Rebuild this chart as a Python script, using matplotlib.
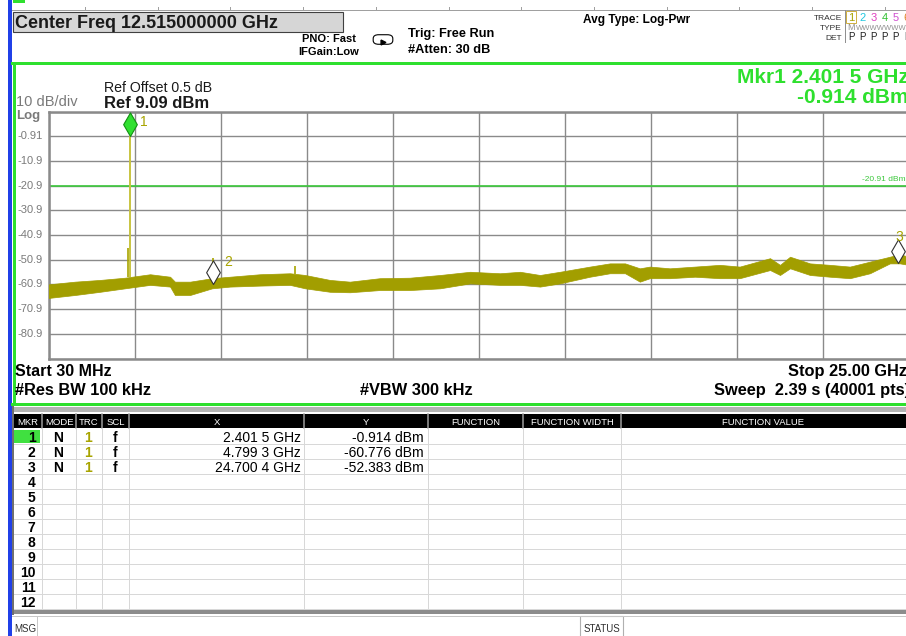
import numpy as np
import matplotlib.pyplot as plt
from matplotlib.patches import Rectangle, FancyBboxPatch
from matplotlib.path import Path
from matplotlib.lines import Line2D
from matplotlib.transforms import blended_transform_factory

plt.rcParams['font.family'] = ['Liberation Sans', 'DejaVu Sans']

# sweep settings
start_ghz = 0.03
stop_ghz = 25.0
ref_dbm = 9.09
db_div = 10
threshold_dbm = -20.91

# noise floor band (upper / lower edge)
freq_ghz = [0.03, 0.80, 1.53, 2.25, 2.98, 3.56, 3.70, 4.14, 4.78, 5.30, 6.17,
            7.04, 7.48, 8.20, 8.78, 9.65, 10.52, 11.40, 12.27, 13.14, 13.72,
            14.30, 14.88, 15.75, 16.33, 16.77, 17.20, 17.49, 18.07, 18.80,
            19.52, 20.10, 20.98, 21.27, 21.56, 22.14, 22.72, 23.30, 23.88,
            24.46, 24.75, 25.00]
floor_top = [-60.9, -59.8, -59.1, -58.2, -56.8, -57.8, -59.8, -59.8, -58.4,
             -57.8, -56.8, -56.4, -57.1, -59.1, -59.8, -58.4, -58.2, -57.1,
             -55.8, -56.4, -55.8, -57.1, -55.8, -53.7, -52.4, -52.4, -54.4,
             -53.7, -54.4, -53.7, -53.0, -53.7, -50.3, -53.0, -49.7, -52.4,
             -53.0, -53.7, -51.7, -49.7, -48.7, -49.7]
floor_bottom = [-66.4, -65.2, -63.9, -62.5, -61.1, -61.8, -65.2, -65.2, -62.5,
                -61.8, -61.4, -61.1, -62.5, -63.9, -64.1, -63.2, -63.2, -62.5,
                -60.5, -61.1, -61.1, -61.8, -60.5, -57.8, -56.4, -56.4, -59.8,
                -58.4, -58.4, -57.8, -58.4, -58.4, -55.1, -57.1, -54.4, -57.1,
                -57.8, -58.4, -56.4, -52.4, -52.4, -53.0]

# narrow spurs above the floor
spur_ghz = [2.33, 4.80, 7.19, 24.70]
spur_dbm = [-46.3, -50.3, -53.5, -50.0]

# carrier
peak_ghz = 2.4015
peak_dbm = -0.914

# markers
mkr_ghz = [2.4015, 4.7993, 24.7004]
mkr_dbm = [-0.914, -60.776, -52.383]

W, H = 906, 636


def fx(x):
    return x / W


def fy(y):
    return 1 - y / H


GREEN = '#2ee02e'
OLIVE = '#a8a400'
GRID = '#8a8a8a'
LBL = '#7a7a7a'

fig = plt.figure(figsize=(W / 100, H / 100), dpi=100)
fig.patch.set_facecolor('white')


def rect(x0, y0, x1, y1, **kw):
    fig.add_artist(Rectangle((fx(x0), fy(y1)), (x1 - x0) / W, (y1 - y0) / H,
                             transform=fig.transFigure, **kw))


def line(x0, y0, x1, y1, color, lw):
    fig.add_artist(Line2D([fx(x0), fx(x1)], [fy(y0), fy(y1)],
                          transform=fig.transFigure, color=color, lw=lw * 0.72))


def txt(x, y, s, **kw):
    kw.setdefault('va', 'baseline')
    fig.text(fx(x), fy(y), s, **kw)


# ---- main trace window ----
ax = fig.add_axes([fx(48.5), fy(358.5), 860 / W, 247 / H])
ax.set_xlim(start_ghz, stop_ghz)
ax.set_ylim(ref_dbm - 10 * db_div, ref_dbm)
ax.set_xticks(np.linspace(start_ghz, stop_ghz, 11))
ax.set_yticks(ref_dbm - db_div * np.arange(11))
ax.grid(True, color=GRID, lw=1.0)
ax.tick_params(length=0, labelbottom=False, labelleft=False)
for s in ax.spines.values():
    s.set_color(GRID)
    s.set_linewidth(1.8)
ax.set_axisbelow(True)

ax.fill_between(freq_ghz, floor_bottom, floor_top, color='#a29e00', lw=0.5,
                edgecolor='#a29e00', zorder=3)
spur_base = np.interp(spur_ghz, freq_ghz, floor_top)
ax.vlines(spur_ghz, spur_base, spur_dbm, color=OLIVE, lw=1.2, zorder=3)
ax.vlines(peak_ghz, np.interp(peak_ghz, freq_ghz, floor_top), peak_dbm,
          color='#c8c440', lw=1.4, zorder=3)

ax.axhline(threshold_dbm, color='#3cc83c', lw=1.2, zorder=2)
tr = blended_transform_factory(fig.transFigure, ax.transData)
ax.text(fx(906), threshold_dbm + 1.2, '-20.91 dBm', transform=tr, ha='right',
        va='bottom', fontsize=6, color='#3cc83c')

# y labels
for v in ref_dbm - db_div * np.arange(1, 10):
    ax.text(fx(17), v, f'{v:.2f}' if abs(v) < 1 else f'{v:.1f}', transform=tr,
            ha='left', va='center', fontsize=8, color=LBL)

# marker diamonds, tip sits on the marker value
diamond = Path([(0, 0), (0.58, 1), (0, 2), (-0.58, 1), (0, 0)],
               [Path.MOVETO, Path.LINETO, Path.LINETO, Path.LINETO, Path.CLOSEPOLY])
label_off = [(7, 10), (8, 16), (0.5, 19)]
for i, (f, v) in enumerate(zip(mkr_ghz, mkr_dbm)):
    if i == 0:
        fc, ec = '#30e030', '#129012'
    else:
        fc, ec = 'white', '#303030'
    ax.plot(f, v, marker=diamond, ms=34, mfc=fc, mec=ec, mew=0.8,
            zorder=5, clip_on=False)
    ax.annotate(str(i + 1), (f, v), xytext=label_off[i], textcoords='offset points',
                ha='left' if i < 2 else 'center', va='center', fontsize=10,
                color=OLIVE, annotation_clip=False, zorder=6)

# ---- frame and header ----
rect(8, 0, 12, 636, color='#2040e8', lw=0)
rect(13, 0, 25, 3, color=GREEN, lw=0)
line(12, 9.5, 906, 9.5, '#a0a0a0', 1)
for k in range(12):
    xt = 85 + 72.7 * k
    line(xt, 6.5, xt, 9.5, '#a0a0a0', 1)

rect(12.5, 11.5, 343, 31.5, facecolor='#d6d6d6', edgecolor='#404040', lw=0.8)
txt(15, 28, 'Center Freq 12.515000000 GHz', fontsize=13, fontweight='bold',
    color='#1a1a1a')

txt(329, 41.5, 'PNO: Fast', fontsize=8, fontweight='bold', ha='center')
txt(329, 55, 'IFGain:Low', fontsize=8, fontweight='bold', ha='center')
fig.add_artist(FancyBboxPatch((fx(375), fy(43)), 16 / W, 7 / H,
                              boxstyle='round,pad=0.002,rounding_size=0.006',
                              transform=fig.transFigure, fc='white', ec='black', lw=0.8))
fig.add_artist(Line2D([fx(383)], [fy(41.5)], marker='>', ms=3.5, color='black',
                      transform=fig.transFigure))
txt(408, 37, 'Trig: Free Run', fontsize=9.2, fontweight='bold')
txt(408, 53, '#Atten: 30 dB', fontsize=9.2, fontweight='bold')
txt(583, 23.5, 'Avg Type: Log-Pwr', fontsize=8.6, fontweight='bold')

# trace/type/det box
txt(842, 19.5, 'TRACE', fontsize=6, ha='right', color='#303030')
txt(842, 29.5, 'TYPE', fontsize=6, ha='right', color='#303030')
txt(842, 39.5, 'DET', fontsize=6, ha='right', color='#303030')
line(845, 10, 845, 42, '#909090', 1)
rect(846, 11, 856, 23, facecolor='none', edgecolor='#d0b040', lw=0.7)
trace_colors = ['#a8a400', '#20c8e0', '#e040c0', '#30c030', '#d050d0', '#e08020']
for k, c in enumerate(trace_colors):
    xk = 851 + 11.2 * k
    txt(xk, 21, str(k + 1), fontsize=8, color=c, ha='center')
    txt(xk, 39.5, 'P', fontsize=7, color='#202020', ha='center')
txt(851, 30, 'M', fontsize=6.5, color='#909090', ha='center')
txt(856, 30, 'WWWWWWWW', fontsize=5.5, color='#909090', ha='left')

# green window border
line(12, 63, 906, 63, GREEN, 3)
line(13.5, 63, 13.5, 404, GREEN, 3)
line(12, 403.5, 906, 403.5, GREEN, 3)

txt(104, 91.5, 'Ref Offset 0.5 dB', fontsize=10.2, color='#1a1a1a')
txt(104, 108, 'Ref 9.09 dBm', fontsize=12, fontweight='bold', color='#1a1a1a')
txt(16, 106, '10 dB/div', fontsize=10.5, color=LBL)
txt(16, 118.5, 'Log', fontsize=9.5, fontweight='bold', color=LBL)
txt(909, 83, 'Mkr1 2.401 5 GHz', fontsize=15, fontweight='bold', color=GREEN, ha='right')
txt(909, 103, '-0.914 dBm', fontsize=15, fontweight='bold', color=GREEN, ha='right')

txt(15, 376, 'Start 30 MHz', fontsize=11.5, fontweight='bold')
txt(907, 376, 'Stop 25.00 GHz', fontsize=11.8, fontweight='bold', ha='right')
txt(15, 395, '#Res BW 100 kHz', fontsize=11.8, fontweight='bold')
txt(416, 395, '#VBW 300 kHz', fontsize=11.8, fontweight='bold', ha='center')
txt(910, 395, 'Sweep  2.39 s (40001 pts)', fontsize=11.8, fontweight='bold', ha='right')

# ---- marker table ----
rect(12, 407, 906, 412, color='#b4b4b4', lw=0)
line(13, 407, 13, 614, '#707070', 2)
cols = [14, 42, 76, 102, 129, 304, 428, 523, 621, 906]
heads = ['MKR', 'MODE', 'TRC', 'SCL', 'X', 'Y', 'FUNCTION', 'FUNCTION WIDTH',
         'FUNCTION VALUE']
rect(14, 414, 906, 428, color='black', lw=0)
for k, h in enumerate(heads):
    txt((cols[k] + cols[k + 1]) / 2, 425, h, fontsize=6.8, color='white',
        ha='center', family=['Liberation Sans Narrow', 'Liberation Sans'])
    if k > 0:
        line(cols[k], 414, cols[k], 428, '#a0a0a0', 1.5)
        line(cols[k], 428, cols[k], 608, '#d8d8d8', 1)
for r in range(12):
    yb = 444 + 15 * r
    line(14, yb, 906, yb, '#d8d8d8', 1)
rect(14, 430, 40, 443, color='#40e040', lw=0)
for r in range(12):
    txt(35.5, 441.7 + 15 * r, str(r + 1), fontsize=10, fontweight='bold', ha='right')
for r, (f, v) in enumerate(zip(mkr_ghz, mkr_dbm)):
    yb = 441.7 + 15 * r
    s = f'{f:.4f}'
    txt(58, yb, 'N', fontsize=10, fontweight='bold', ha='center')
    txt(88, yb, '1', fontsize=10, fontweight='bold', ha='center', color=OLIVE)
    txt(115, yb, 'f', fontsize=10, fontweight='bold', ha='center')
    txt(301, yb, s[:-1] + ' ' + s[-1] + ' GHz', fontsize=10, ha='right')
    txt(424, yb, f'{v:.3f} dBm', fontsize=10, ha='right')

rect(12, 609, 906, 614, color='#8c8c8c', lw=0)
line(12, 616, 906, 616, '#c8c8c8', 1)
line(37, 616, 37, 636, '#c8c8c8', 1)
txt(14, 632, 'MSG', fontsize=7, color='#303030')
rect(580, 616, 623, 637, facecolor='none', edgecolor='#b0b0b0', lw=0.8)
txt(601.5, 632, 'STATUS', fontsize=7, ha='center', color='#303030')

fig.savefig('out.png', dpi=100)
